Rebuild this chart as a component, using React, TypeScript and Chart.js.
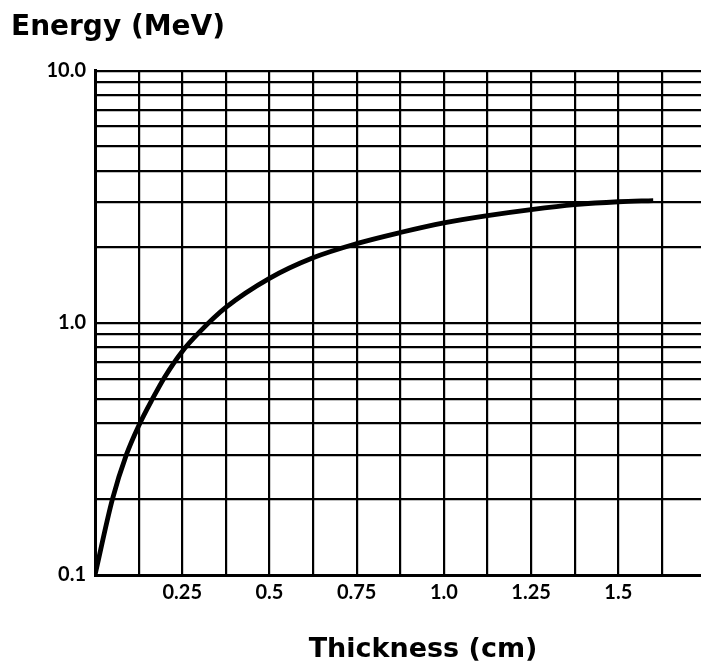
import React, { useEffect, useRef } from 'react';
import { Chart, registerables } from 'chart.js';

Chart.register(...registerables);

// Absorber thickness (cm) and the corresponding particle energy (MeV)
const thicknessCm = [0, 0.05, 0.09, 0.125, 0.165, 0.2, 0.25, 0.3, 0.375, 0.5, 0.625, 0.75, 0.875, 1.0, 1.125, 1.25, 1.375, 1.5, 1.6];
const energyMeV = [0.1, 0.2, 0.3, 0.39, 0.5, 0.61, 0.77, 0.92, 1.15, 1.5, 1.81, 2.06, 2.28, 2.49, 2.66, 2.81, 2.94, 3.02, 3.05];

// Vertical grid every 0.125 cm, labels every 0.25 cm
const xGridValues = [0, 0.125, 0.25, 0.375, 0.5, 0.625, 0.75, 0.875, 1.0, 1.125, 1.25, 1.375, 1.5, 1.625];
const xLabelValues = [0.25, 0.5, 0.75, 1.0, 1.25, 1.5];
const xLabelTexts = ['0.25', '0.5', '0.75', '1.0', '1.25', '1.5'];
const xMax = 1.737;

// Log-paper horizontal grid: 1..9 in each decade
const yGridValues = [0.1, 0.2, 0.3, 0.4, 0.5, 0.6, 0.7, 0.8, 0.9, 1, 2, 3, 4, 5, 6, 7, 8, 9, 10];
const yLabelValues = [0.1, 1, 10];
const yLabelTexts = ['0.1', '1.0', '10.0'];

const xAxisTitle = 'Thickness (cm)';
const yAxisTitle = 'Energy (MeV)';

const near = (a: number, b: number) => Math.abs(a - b) < 1e-6;

// Horizontal axis caption drawn below the tick labels
const xCaptionPlugin = {
  id: 'xCaption',
  afterDraw(chart: any) {
    const { ctx, chartArea } = chart;
    ctx.save();
    ctx.fillStyle = '#000';
    ctx.font = 'bold 27px "DejaVu Sans"';
    ctx.textAlign = 'center';
    ctx.textBaseline = 'alphabetic';
    ctx.fillText(xAxisTitle, (chartArea.left + chartArea.right) / 2 + 25, chart.height - 10);
    ctx.restore();
  },
};

export default function App() {
  const canvasRef = useRef<HTMLCanvasElement | null>(null);

  useEffect(() => {
    const canvas = canvasRef.current;
    if (!canvas) return;

    const chart = new Chart(canvas, {
      type: 'line',
      data: {
        datasets: [
          {
            label: 'Energy',
            data: thicknessCm.map((x, i) => ({ x, y: energyMeV[i] })),
            borderColor: '#000',
            borderWidth: 4.8,
            pointRadius: 0,
            cubicInterpolationMode: 'monotone',
            fill: false,
          },
        ],
      },
      options: {
        responsive: false,
        animation: false,
        layout: { padding: { left: 11, right: 0, top: 0, bottom: 0 } },
        plugins: {
          legend: { display: false },
          tooltip: { enabled: false },
          title: {
            display: true,
            text: yAxisTitle,
            align: 'start',
            color: '#000',
            font: { family: 'DejaVu Sans', size: 28, weight: 'bold' },
            padding: { top: 11, bottom: 26 },
          },
        },
        scales: {
          x: {
            type: 'linear',
            min: 0,
            max: xMax,
            afterBuildTicks: (scale: any) => {
              scale.ticks = xGridValues.map((v) => ({ value: v }));
            },
            afterFit: (scale: any) => {
              scale.height = 92;
            },
            ticks: {
              autoSkip: false,
              maxRotation: 0,
              padding: 6,
              color: '#000',
              font: { family: 'Lato', size: 20, weight: 'bold' },
              callback: (value: any) => {
                const i = xLabelValues.findIndex((v) => near(v, Number(value)));
                return i >= 0 ? xLabelTexts[i] : '';
              },
            },
            grid: { color: '#000', lineWidth: 2.2, drawTicks: false },
            border: { display: true, color: '#000', width: 3 },
          },
          y: {
            type: 'logarithmic',
            min: 0.1,
            max: 10,
            afterBuildTicks: (scale: any) => {
              scale.ticks = yGridValues.map((v) => ({ value: v }));
            },
            afterFit: (scale: any) => {
              scale.width = 84;
            },
            ticks: {
              autoSkip: false,
              padding: 9,
              color: '#000',
              font: { family: 'Lato', size: 20, weight: 'bold' },
              callback: (value: any) => {
                const i = yLabelValues.findIndex((v) => near(v, Number(value)));
                return i >= 0 ? yLabelTexts[i] : '';
              },
            },
            grid: { color: '#000', lineWidth: 2.2, drawTicks: false },
            border: { display: true, color: '#000', width: 3 },
          },
        },
      },
      plugins: [xCaptionPlugin],
    } as any);

    return () => chart.destroy();
  }, []);

  return (
    <div style={{ position: 'fixed', left: 0, top: 0, width: 701, height: 667, background: '#fff' }}>
      <canvas ref={canvasRef} width={701} height={667} />
    </div>
  );
}
